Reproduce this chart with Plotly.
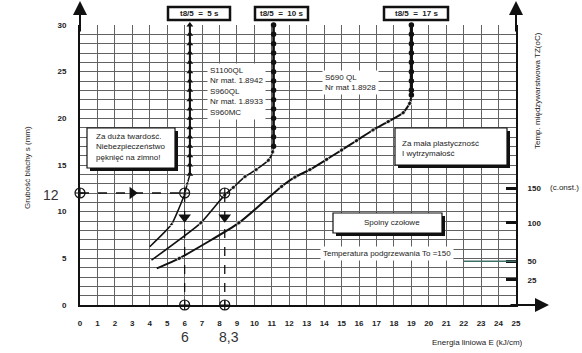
import plotly.graph_objects as go

# ---------------- data ----------------
energy_ticks = list(range(0, 26))
thickness_ticks = [0, 5, 10, 15, 20, 25, 30]
temp_labels = ["25", "50", "100", "150"]
temp_pos_mm = [2.7, 4.7, 8.8, 12.5]

# t8/5 = 5 s
e5 = [4.0, 5.25, 6.0, 6.15, 6.3, 6.3, 6.3, 6.3, 6.3, 6.3, 6.3, 6.3, 6.3, 6.3, 6.3, 6.3, 6.3, 6.3, 6.3, 6.3, 6.3]
s5 = [6.25, 8.65, 11.9, 13.0, 14.0, 15, 16, 17, 18, 19, 20, 21, 22, 23, 24, 25, 26, 27, 28, 29, 30]
# t8/5 = 10 s
e10 = [4.1, 6.93, 8.3, 8.79, 9.46, 10.1, 10.8, 11.05, 11.1, 11.1, 11.1, 11.1, 11.1, 11.1, 11.1, 11.1, 11.1, 11.1, 11.1, 11.1, 11.1, 11.1]
s10 = [4.8, 8.8, 11.8, 12.6, 13.75, 14.5, 15.5, 16.4, 17, 18, 19, 20, 21, 22, 23, 24, 25, 26, 27, 28, 29, 30]
# t8/5 = 17 s
e17 = [4.4, 5.69, 9.11, 11.56, 12.32, 13.18, 14.14, 15.0, 15.85, 16.8, 17.67, 18.53, 18.9, 19.0, 19.0, 19.0, 19.0, 19.0, 19.0, 19.0, 19.0, 19.0]
s17 = [3.93, 5.0, 8.8, 12.7, 13.7, 14.5, 15.6, 16.6, 17.6, 18.75, 19.65, 20.6, 21.6, 22.5, 23, 24, 25, 26, 27, 28, 29, 30]

example_thickness = 12
example_energy = [6.0, 8.3]

# ---------------- helpers (pixel -> paper) ----------------
L, R, T, B = 80, 516, 25, 305
def PX(p):
    return (p - L) / (R - L)
def PY(p):
    return (B - p) / (B - T)

FONT = "Liberation Sans, Arial, sans-serif"
TXT = "#222222"
GRID = "#626262"

fig = go.Figure()

def curve(e, s, width, vwidth, vstart, symbol, msize):
    # sloped part (whole curve, thin)
    sizes = [0] + [msize] * (len(e) - 1)
    fig.add_trace(go.Scatter(
        x=e, y=s, mode="lines+markers", line=dict(color="#111", width=width, shape="spline", smoothing=0.5),
        marker=dict(symbol=symbol, size=sizes, color="#111"), cliponaxis=False, hoverinfo="skip", showlegend=False))
    # vertical part (thick)
    fig.add_trace(go.Scatter(
        x=e[vstart:], y=s[vstart:], mode="lines+markers", line=dict(color="#111", width=vwidth),
        marker=dict(symbol=symbol, size=msize + 1, color="#111"), cliponaxis=False, hoverinfo="skip", showlegend=False))

curve(e5, s5, 1.5, 2.0, 4, "triangle-up", 5)
curve(e10, s10, 1.6, 2.4, 8, "circle", 4.5)
curve(e17, s17, 2.0, 3.2, 13, "circle", 4.5)

# example construction lines
fig.add_trace(go.Scatter(x=[0, example_energy[0]], y=[example_thickness] * 2, mode="lines",
                         line=dict(color="#111", width=1.3, dash="dash"), showlegend=False, hoverinfo="skip"))
for e in example_energy:
    fig.add_trace(go.Scatter(x=[e, e], y=[example_thickness, 0], mode="lines",
                             line=dict(color="#111", width=1.3, dash="dash"), showlegend=False, hoverinfo="skip"))
fig.add_trace(go.Scatter(x=[0] + example_energy + example_energy,
                         y=[example_thickness] * 3 + [0, 0], mode="markers",
                         marker=dict(symbol="circle-cross-open", size=10, color="#111", line=dict(width=1.2)),
                         cliponaxis=False, showlegend=False, hoverinfo="skip"))
fig.add_trace(go.Scatter(x=[example_energy[0] / 2], y=[example_thickness], mode="markers",
                         marker=dict(symbol="triangle-right", size=11, color="#111"),
                         showlegend=False, hoverinfo="skip"))
fig.add_trace(go.Scatter(x=example_energy, y=[9.4, 9.4], mode="markers",
                         marker=dict(symbol="triangle-down", size=11, color="#111"),
                         showlegend=False, hoverinfo="skip"))

# dummy trace for the right axis
fig.add_trace(go.Scatter(x=[None], y=[None], yaxis="y2", showlegend=False, hoverinfo="skip"))

fig.update_layout(
    width=582, height=353, margin=dict(l=L, r=582 - R, t=T, b=353 - B),
    paper_bgcolor="white", plot_bgcolor="white", showlegend=False,
    font=dict(family=FONT, color=TXT, size=8),
    xaxis=dict(range=[0, 25], tickvals=energy_ticks, ticktext=[str(v) for v in energy_ticks],
               showgrid=True, gridcolor=GRID, gridwidth=1, zeroline=False,
               showline=True, linecolor="#111", linewidth=2, ticks="",
               tickfont=dict(family=FONT, size=8, color=TXT, weight="bold"), ticklabelstandoff=9),
    yaxis=dict(range=[0, 30], tickvals=thickness_ticks, ticktext=[str(v) for v in thickness_ticks],
               showgrid=True, gridcolor=GRID, gridwidth=1, zeroline=False,
               minor=dict(dtick=1, showgrid=True, gridcolor=GRID, gridwidth=1),
               showline=True, linecolor="#111", linewidth=2, ticks="",
               tickfont=dict(family=FONT, size=8, color=TXT, weight="bold"), ticklabelstandoff=10),
    yaxis2=dict(range=[0, 30], overlaying="y", side="right", tickvals=temp_pos_mm, ticktext=temp_labels,
                showgrid=False, zeroline=False, showline=True, linecolor="#111", linewidth=2,
                ticks="inside", ticklen=10, tickwidth=3, tickcolor="#111",
                tickfont=dict(family=FONT, size=8, color=TXT, weight="bold"), ticklabelstandoff=8),
)

shapes = []
annotations = []

def box(x0, y0, x1, y1, shadow=3, lw=1.2):
    if shadow:
        shapes.append(dict(type="rect", xref="paper", yref="paper", x0=PX(x0 + shadow), x1=PX(x1 + shadow),
                           y0=PY(y0 + shadow), y1=PY(y1 + shadow), fillcolor="#111", line=dict(width=0)))
    shapes.append(dict(type="rect", xref="paper", yref="paper", x0=PX(x0), x1=PX(x1), y0=PY(y0), y1=PY(y1),
                       fillcolor="white", line=dict(color="#111", width=lw)))

def text(t, x, y, xanchor="left", size=8, bg=None, bold=False, color=TXT, angle=0, align="left"):
    a = dict(text=t, xref="paper", yref="paper", x=PX(x), y=PY(y), xanchor=xanchor, yanchor="middle",
             showarrow=False, align=align, textangle=angle,
             font=dict(family=FONT, size=size, color=color, weight="bold" if bold else "normal"))
    if bg:
        a.update(bgcolor=bg, borderpad=2)
    annotations.append(a)

# boxes
box(87, 128, 175, 168)
text("Za duża twardość.<br>Niebezpieczeństwo<br>pęknięć na zimno!", 94, 147)
box(395, 128, 507, 165)
text("Za mała plastyczność<br>I wytrzymałość", 400, 148)
box(333, 213, 442, 233)
text("Spoiny czołowe", 392, 223, xanchor="center")

# top t8/5 boxes
for (x0, x1, lab) in [(168, 230, "t8/5  =  5 s"), (255, 308, "t8/5  =  10 s"), (384, 448, "t8/5  =  17 s")]:
    shapes.append(dict(type="rect", xref="paper", yref="paper", x0=PX(x0), x1=PX(x1), y0=PY(7), y1=PY(20),
                       fillcolor="white", line=dict(color="#111", width=2.5)))
    text(lab, (x0 + x1) / 2, 13.5, xanchor="center", bold=True)

# material texts
text("S1100QL<br>Nr mat. 1.8942<br>S960QL<br>Nr mat. 1.8933<br>S960MC", 207, 91, bg="white")
text("S690 QL<br>Nr mat 1.8928", 322, 82, bg="white")
text("Temperatura podgrzewania To =150", 387, 253, xanchor="center", bg="white")

# preheat line
shapes.append(dict(type="line", xref="x", yref="y", x0=22, x1=25, y0=temp_pos_mm[1], y1=temp_pos_mm[1],
                   line=dict(color="#3f6f6a", width=1.5)))

# axis titles
text("Grubość blachy s (mm)", 27, 168, xanchor="center", angle=-90)
text("Temp. międzywarstwowa TZ(oC)", 537, 91, xanchor="center", angle=-90)
text("Energia liniowa E (kJ/cm)", 477, 342, xanchor="center")
text("(c.onst.)", 548, 188)

# example labels
text("12", 51, 195, xanchor="center", size=14, color="#333")
text("6", 185, 337, xanchor="center", size=14, color="#333")
text("8,3", 229, 337, xanchor="center", size=14, color="#333")

# axis arrows
for (x, y, ax, ay) in [(80, 1, 0, 32), (516, 1, 0, 32), (549, 305, -40, 0)]:
    annotations.append(dict(x=PX(x), y=PY(y), xref="paper", yref="paper", text="", showarrow=True,
                            ax=ax, ay=ay, arrowhead=2, arrowsize=1.4, arrowwidth=2, arrowcolor="#111"))

fig.update_layout(shapes=shapes, annotations=annotations)
fig.write_html("out.html")
